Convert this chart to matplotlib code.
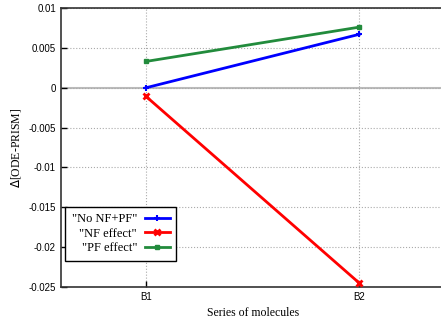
import numpy as np
import matplotlib.pyplot as plt

# data
categories = ['B1', 'B2']
no_nf_pf = [0.0, 0.0067]
nf_effect = [-0.0011, -0.0245]
pf_effect = [0.0033, 0.0076]
yticks = [0.01, 0.005, 0, -0.005, -0.01, -0.015, -0.02, -0.025]

x = np.arange(1, len(categories) + 1)

fig = plt.figure(figsize=(4.41, 3.2), dpi=100)
ax = fig.add_axes([0.138, 0.103, 0.87, 0.872])

ax.axhline(0, color='#bbbbbb', lw=1.5, zorder=1)
ax.plot(x, no_nf_pf, color='#0000ff', lw=2, marker='+', ms=4, mew=1.5, label='"No NF+PF"', zorder=3)
ax.plot(x, nf_effect, color='#ff0000', lw=2, marker='x', ms=4, mew=2, label='"NF effect"', zorder=3)
ax.plot(x, pf_effect, color='#228b3c', lw=2, marker='s', ms=3.5, label='"PF effect"', zorder=3)

ax.set_xlim(0.6, 2.4)
ax.set_ylim(-0.025, 0.01)
ax.set_xticks(x)
ax.set_xticklabels(categories)
ax.set_yticks(yticks)
ax.set_yticklabels([('%g' % v) for v in yticks])
ax.tick_params(labelsize=7, direction='in', length=4, width=1, colors='black')
for lab in ax.get_xticklabels() + ax.get_yticklabels():
    lab.set_family('Liberation Sans')
ax.grid(True, color='#aaaaaa', linestyle=':', lw=0.8)
for s in ax.spines.values():
    s.set_linewidth(1.2)
    s.set_color('#333333')

ax.set_xlabel('Series of molecules', family='Liberation Serif', fontsize=8.5)
ax.set_ylabel(r'$\Delta$[ODE-PRISM]', family='Liberation Serif', fontsize=8.5)

leg = ax.legend(loc='lower left', bbox_to_anchor=(0.012, 0.095), markerfirst=False,
                prop={'family': 'Liberation Serif', 'size': 9}, fancybox=False,
                edgecolor='black', framealpha=1, handlelength=2.0, handletextpad=0.6,
                borderpad=0.5, labelspacing=0.2, borderaxespad=0)
leg.get_frame().set_linewidth(1)

fig.savefig('out.png', dpi=100)
